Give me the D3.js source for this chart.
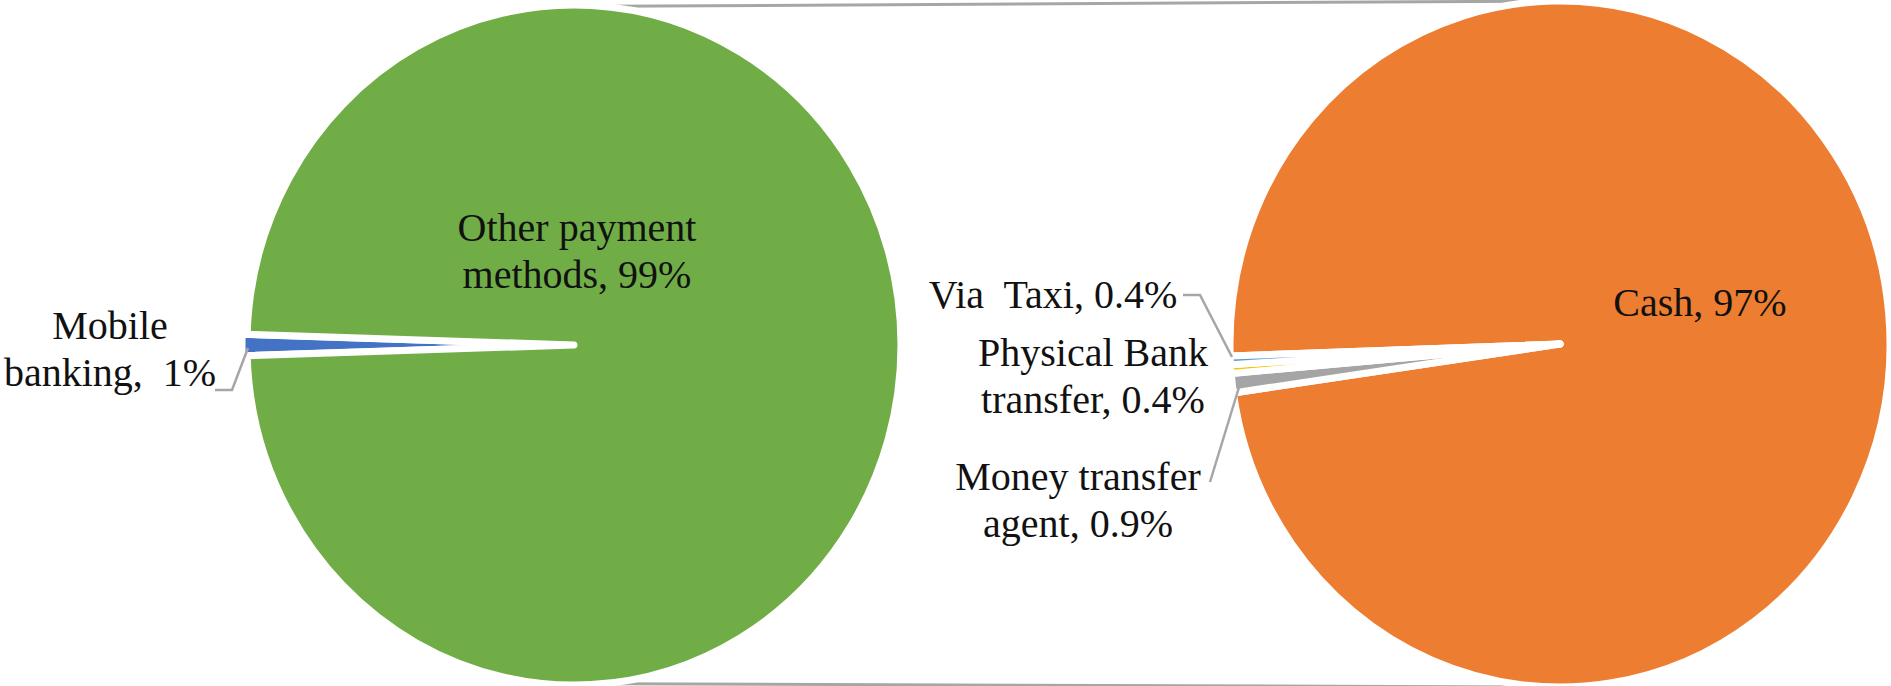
<!DOCTYPE html>
<html>
<head>
<meta charset="utf-8">
<script src="https://cdn.jsdelivr.net/npm/d3@7"></script>
<style>
  html, body { margin: 0; padding: 0; background: #fff; }
  svg { display: block; }
  text { font-family: "Liberation Serif", "Times New Roman", serif; font-size: 40px; fill: #111; }
</style>
</head>
<body>
<svg id="chart" width="1891" height="686"></svg>
<script>
// Primary pie: share of mobile banking vs. all other payment methods (%)
const mainLabels = ["Mobile banking", "Other payment methods"];
const mainValues = [1, 99];
const mainColors = ["#4472C4", "#70AD47"];

// Secondary pie: breakdown of the other payment methods (%)
const subLabels = ["Cash", "Money transfer agent", "Physical Bank transfer", "Via Taxi"];
const subValues = [97, 0.9, 0.4, 0.4];
const subColors = ["#ED7D31", "#A5A5A5", "#FFC000", "#5B9BD5"];

// Label lines (as printed)
const mainLabelLines = [["Mobile", "banking,  1%"], ["Other payment", "methods, 99%"]];
const subLabelLines = [["Cash, 97%"], ["Money transfer", "agent, 0.9%"], ["Physical Bank", "transfer, 0.4%"], ["Via  Taxi, 0.4%"]];

const svg = d3.select("#chart");
const deg = Math.PI / 180;
const lineH = 47;

const left = { cx: 574, cy: 345, rx: 327, ry: 340 };
const right = { cx: 1560, cy: 344, rx: 330, ry: 343 };

// Connector lines between the two pies
function pt(p, a) { return [p.cx + p.rx * Math.sin(a), p.cy - p.ry * Math.cos(a)]; }
const conn = [
  [pt(left, 5 * deg), pt(right, 0)],
  [pt(left, 175 * deg), pt(right, 180 * deg)]
];
svg.selectAll("line.conn").data(conn).join("line")
  .attr("class", "conn")
  .attr("x1", d => d[0][0]).attr("y1", d => d[0][1])
  .attr("x2", d => d[1][0]).attr("y2", d => d[1][1])
  .attr("stroke", "#A6A6A6").attr("stroke-width", 3);

function drawPie(p, values, colors, start, explode) {
  const pie = d3.pie().sort(null).startAngle(start).endAngle(start + 2 * Math.PI);
  const arc = d3.arc().innerRadius(0).outerRadius(p.rx);
  const g = svg.append("g")
    .attr("transform", `translate(${p.cx},${p.cy}) scale(1,${p.ry / p.rx})`);
  g.selectAll("path").data(pie(values)).join("path")
    .attr("d", arc)
    .attr("fill", (d, i) => colors[i])
    .attr("stroke", "#fff")
    .attr("stroke-width", 7)
    .attr("stroke-linejoin", "round")
    .attr("vector-effect", "non-scaling-stroke")
    .attr("transform", (d, i) => {
      const e = explode[i] || 0;
      const a = (d.startAngle + d.endAngle) / 2;
      return `translate(${e * Math.sin(a)},${-e * Math.cos(a)})`;
    });
}

// Mobile banking slice centred at 9 o'clock, pulled out slightly
const mainShare = mainValues[0] / d3.sum(mainValues) * 2 * Math.PI;
drawPie(left, mainValues, mainColors, 270 * deg - mainShare / 2, [5, 0]);
drawPie(right, subValues, subColors, 268 * deg, [0, 0, 0, 0]);

// Leader lines
const leaders = [
  [[215, 390], [232, 390], [248, 348]],
  [[1183, 295], [1200, 295], [1232, 357]],
  [[1240, 384], [1210, 482]]
];
svg.selectAll("path.leader").data(leaders).join("path")
  .attr("class", "leader")
  .attr("d", d3.line())
  .attr("fill", "none")
  .attr("stroke", "#A6A6A6")
  .attr("stroke-width", 2.5);

// Data labels
const labelPos = [
  { lines: mainLabelLines[0], x: 110, y: 339 },
  { lines: mainLabelLines[1], x: left.cx + 3, y: 241 },
  { lines: subLabelLines[0], x: right.cx + 140, y: 316 },
  { lines: subLabelLines[1], x: 1078, y: 490 },
  { lines: subLabelLines[2], x: 1093, y: 366 },
  { lines: subLabelLines[3], x: 1053, y: 308 }
];
labelPos.forEach(l => {
  const t = svg.append("text").attr("text-anchor", "middle").attr("xml:space", "preserve");
  l.lines.forEach((s, i) => {
    t.append("tspan").attr("x", l.x).attr("y", l.y + i * lineH).text(s);
  });
});
</script>
</body>
</html>
